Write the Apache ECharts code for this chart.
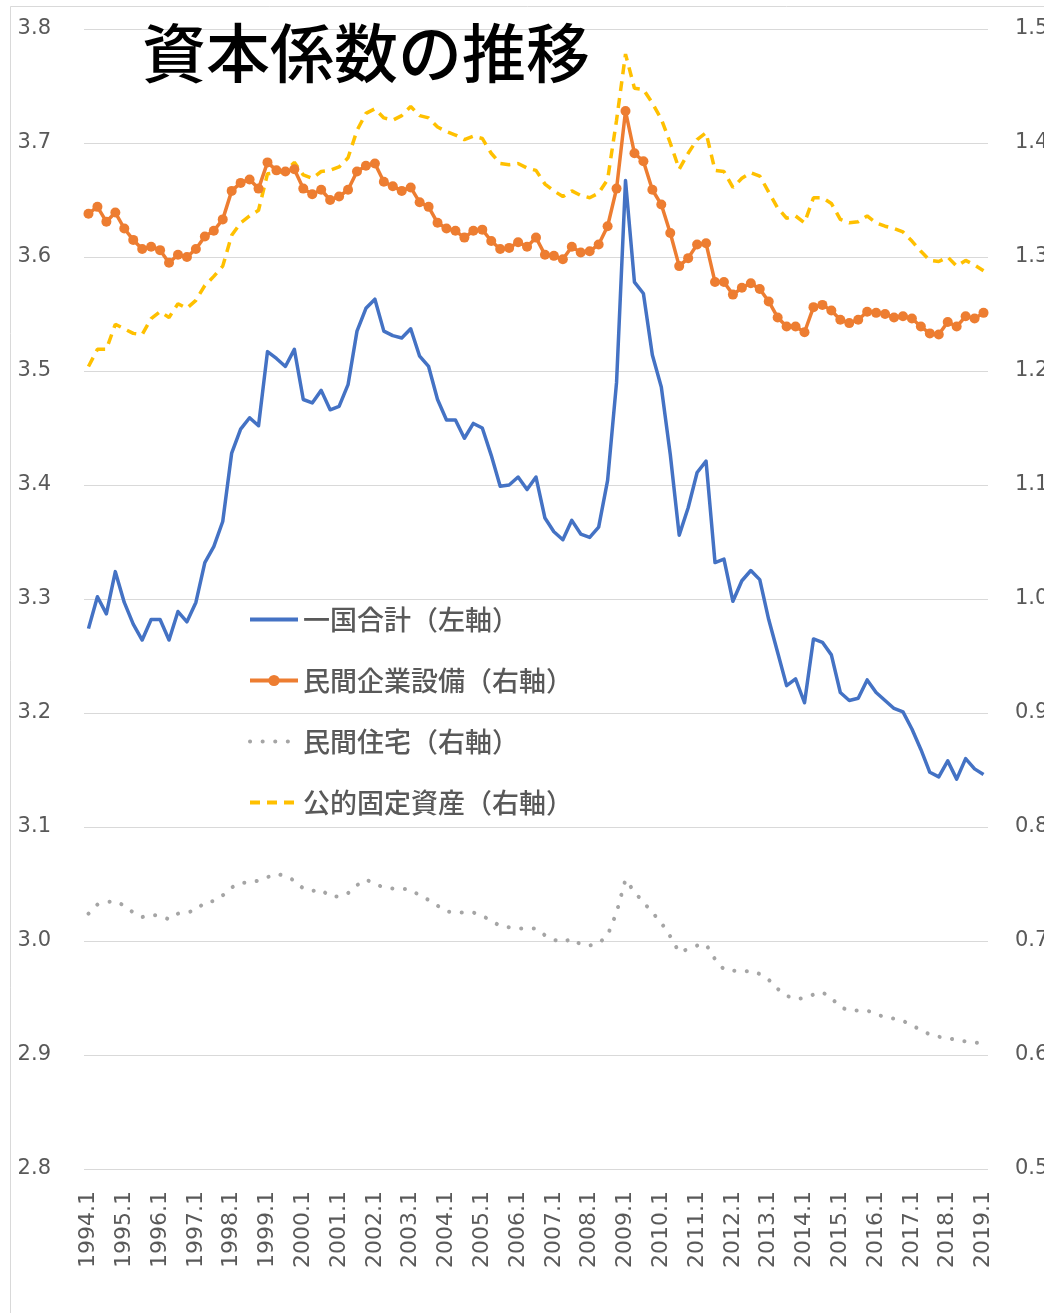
<!DOCTYPE html>
<html>
<head>
<meta charset="utf-8">
<script src="https://cdn.jsdelivr.net/npm/echarts@6/dist/echarts.min.js"></script>
<style>
html,body{margin:0;padding:0;background:#fff;}
#chart{width:1044px;height:1313px;}
</style>
</head>
<body>
<div id="chart"></div>
<script>
// Quarterly categories 1994.1 – 2019.1
const categories = [
  "1994.1","1994.2","1994.3","1994.4","1995.1","1995.2","1995.3","1995.4",
  "1996.1","1996.2","1996.3","1996.4","1997.1","1997.2","1997.3","1997.4",
  "1998.1","1998.2","1998.3","1998.4","1999.1","1999.2","1999.3","1999.4",
  "2000.1","2000.2","2000.3","2000.4","2001.1","2001.2","2001.3","2001.4",
  "2002.1","2002.2","2002.3","2002.4","2003.1","2003.2","2003.3","2003.4",
  "2004.1","2004.2","2004.3","2004.4","2005.1","2005.2","2005.3","2005.4",
  "2006.1","2006.2","2006.3","2006.4","2007.1","2007.2","2007.3","2007.4",
  "2008.1","2008.2","2008.3","2008.4","2009.1","2009.2","2009.3","2009.4",
  "2010.1","2010.2","2010.3","2010.4","2011.1","2011.2","2011.3","2011.4",
  "2012.1","2012.2","2012.3","2012.4","2013.1","2013.2","2013.3","2013.4",
  "2014.1","2014.2","2014.3","2014.4","2015.1","2015.2","2015.3","2015.4",
  "2016.1","2016.2","2016.3","2016.4","2017.1","2017.2","2017.3","2017.4",
  "2018.1","2018.2","2018.3","2018.4","2019.1"
];

const seriesNames = ["一国合計（左軸）","民間企業設備（右軸）","民間住宅（右軸）","公的固定資産（右軸）"];
const titleText = "資本係数の推移";

// 一国合計 (left axis)
const totalEconomy = [
  3.274,3.302,3.287,3.324,3.297,3.278,3.264,3.282,3.282,3.264,
  3.289,3.280,3.297,3.332,3.346,3.368,3.428,3.449,3.459,3.452,
  3.517,3.511,3.504,3.519,3.475,3.472,3.483,3.466,3.469,3.488,
  3.535,3.555,3.563,3.535,3.531,3.529,3.537,3.513,3.504,3.475,
  3.457,3.457,3.441,3.454,3.450,3.426,3.399,3.400,3.407,3.396,
  3.407,3.371,3.359,3.352,3.369,3.357,3.354,3.363,3.404,3.490,
  3.667,3.578,3.568,3.514,3.486,3.427,3.356,3.380,3.411,3.421,
  3.332,3.335,3.298,3.316,3.325,3.317,3.282,3.253,3.224,3.230,
  3.209,3.265,3.262,3.251,3.218,3.211,3.213,3.229,3.218,3.211,
  3.204,3.201,3.186,3.168,3.148,3.144,3.158,3.142,3.160,3.151,
  3.146
];

// 民間企業設備 (right axis)
const privateBusiness = [
  1.338,1.344,1.331,1.339,1.325,1.315,1.307,1.309,1.306,1.295,
  1.302,1.300,1.307,1.318,1.323,1.333,1.358,1.365,1.368,1.360,
  1.383,1.376,1.375,1.377,1.360,1.355,1.359,1.350,1.353,1.359,
  1.375,1.380,1.382,1.366,1.362,1.358,1.361,1.348,1.344,1.330,
  1.325,1.323,1.317,1.323,1.324,1.314,1.307,1.308,1.313,1.309,
  1.317,1.302,1.301,1.298,1.309,1.304,1.305,1.311,1.327,1.360,
  1.428,1.391,1.384,1.359,1.346,1.321,1.292,1.299,1.311,1.312,
  1.278,1.278,1.267,1.273,1.277,1.272,1.261,1.247,1.239,1.239,
  1.234,1.256,1.258,1.253,1.245,1.242,1.245,1.252,1.251,1.250,
  1.247,1.248,1.246,1.239,1.233,1.232,1.243,1.239,1.248,1.246,
  1.251
];

// 民間住宅 (right axis)
const privateHousing = [
  0.724,0.732,0.734,0.735,0.731,0.725,0.721,0.723,0.722,0.719,
  0.724,0.725,0.727,0.734,0.735,0.740,0.747,0.751,0.751,0.753,
  0.756,0.759,0.757,0.753,0.746,0.744,0.745,0.739,0.739,0.742,
  0.749,0.754,0.750,0.747,0.746,0.746,0.745,0.740,0.736,0.731,
  0.726,0.725,0.725,0.725,0.722,0.718,0.713,0.712,0.711,0.711,
  0.711,0.705,0.701,0.699,0.702,0.697,0.696,0.698,0.705,0.725,
  0.754,0.743,0.734,0.725,0.716,0.704,0.690,0.693,0.696,0.697,
  0.684,0.675,0.674,0.673,0.674,0.671,0.666,0.658,0.652,0.649,
  0.650,0.653,0.655,0.650,0.642,0.639,0.639,0.639,0.636,0.633,
  0.632,0.630,0.626,0.622,0.618,0.616,0.615,0.613,0.612,0.611,
  0.610
];

// 公的固定資産 (right axis)
const publicAssets = [
  1.204,1.219,1.219,1.241,1.237,1.233,1.232,1.246,1.252,1.247,
  1.259,1.255,1.262,1.275,1.283,1.292,1.319,1.330,1.336,1.341,
  1.373,1.374,1.375,1.383,1.372,1.369,1.375,1.376,1.379,1.387,
  1.411,1.426,1.430,1.422,1.420,1.424,1.432,1.424,1.422,1.414,
  1.410,1.407,1.403,1.406,1.404,1.391,1.382,1.381,1.382,1.378,
  1.376,1.364,1.358,1.353,1.358,1.354,1.352,1.356,1.368,1.420,
  1.478,1.448,1.447,1.435,1.421,1.400,1.377,1.391,1.403,1.409,
  1.376,1.375,1.361,1.369,1.374,1.371,1.357,1.343,1.334,1.336,
  1.330,1.352,1.352,1.347,1.333,1.330,1.331,1.336,1.330,1.327,
  1.325,1.322,1.314,1.305,1.297,1.296,1.300,1.292,1.297,1.293,
  1.288
];

const chart = echarts.init(document.getElementById('chart'), null, {renderer: 'canvas'});
const labelColor = '#595959';
const numFont = 'DejaVu Sans';
const cjkFont = '"Noto Sans CJK JP"';
const hiddenSymbol = {color: 'rgba(0,0,0,0)', borderColor: 'rgba(0,0,0,0)', borderWidth: 0, opacity: 0};

const option = {
  animation: false,
  backgroundColor: '#ffffff',
  graphic: [
    {
      type: 'rect', z: -1, silent: true,
      shape: {x: 10.5, y: 6.5, width: 1200, height: 1400},
      style: {fill: 'none', stroke: '#D9D9D9', lineWidth: 1}
    },
    {
      type: 'text', left: 142, top: 21, z: 10,
      style: {text: titleText, font: '500 64px "Noto Sans CJK JP"', fill: '#000000'}
    }
  ],
  grid: {left: 84, right: 56, top: 29, bottom: 144, containLabel: false, outerBoundsMode: 'none'},
  legend: {
    orient: 'vertical',
    left: 243,
    top: 601,
    itemWidth: 48,
    itemHeight: 14,
    itemGap: 34,
    textStyle: {fontSize: 27, lineHeight: 26, fontWeight: 500, color: labelColor, fontFamily: cjkFont},
    data: [
      {name: seriesNames[0], itemStyle: hiddenSymbol, lineStyle: {width: 4}},
      {name: seriesNames[1], lineStyle: {width: 4}},
      {name: seriesNames[2], itemStyle: hiddenSymbol, lineStyle: {width: 4}},
      {name: seriesNames[3], itemStyle: hiddenSymbol, lineStyle: {width: 4}}
    ]
  },
  xAxis: {
    type: 'category',
    data: categories,
    boundaryGap: true,
    axisLine: {show: false},
    axisTick: {show: false},
    splitLine: {show: false},
    axisLabel: {interval: 3, rotate: 90, margin: 22, fontSize: 22, fontFamily: numFont, color: labelColor}
  },
  yAxis: [
    {
      type: 'value', position: 'left', min: 2.8, max: 3.8, interval: 0.1,
      axisLine: {show: false}, axisTick: {show: false},
      splitLine: {show: true, lineStyle: {color: '#D9D9D9', width: 1}},
      axisLabel: {formatter: v => v.toFixed(1), margin: 33, fontSize: 21, fontFamily: numFont, color: labelColor}
    },
    {
      type: 'value', position: 'right', min: 0.5, max: 1.5, interval: 0.1,
      axisLine: {show: false}, axisTick: {show: false},
      splitLine: {show: false},
      axisLabel: {formatter: v => v.toFixed(1), margin: 27, fontSize: 21, fontFamily: numFont, color: labelColor}
    }
  ],
  series: [
    {
      name: seriesNames[0], type: 'line', yAxisIndex: 0, data: totalEconomy,
      symbol: 'none', smooth: false,
      lineStyle: {color: '#4472C4', width: 3.5, join: 'round'},
      itemStyle: {color: '#4472C4'}
    },
    {
      name: seriesNames[1], type: 'line', yAxisIndex: 1, data: privateBusiness,
      symbol: 'circle', symbolSize: 10, showSymbol: true, showAllSymbol: true,
      lineStyle: {color: '#ED7D31', width: 3.5, join: 'round'},
      itemStyle: {color: '#ED7D31'}
    },
    {
      name: seriesNames[2], type: 'line', yAxisIndex: 1, data: privateHousing,
      symbol: 'none',
      lineStyle: {color: '#A5A5A5', width: 4, type: [0.1, 12.5], cap: 'round'},
      itemStyle: {color: '#A5A5A5'}
    },
    {
      name: seriesNames[3], type: 'line', yAxisIndex: 1, data: publicAssets,
      symbol: 'none',
      lineStyle: {color: '#FFC000', width: 3.5, type: [10, 7]},
      itemStyle: {color: '#FFC000'}
    }
  ]
};
chart.setOption(option);
</script>
</body>
</html>
